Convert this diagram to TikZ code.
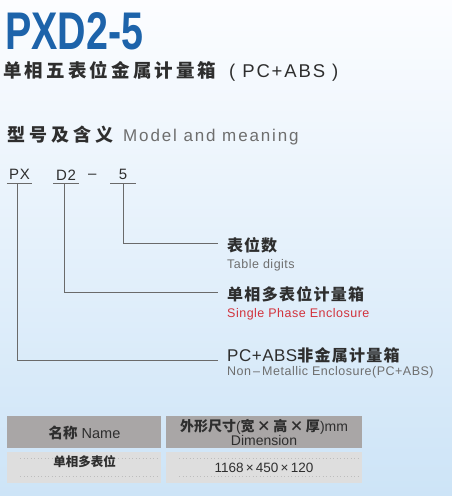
\documentclass[tikz,border=0pt]{standalone}
\usepackage{fontspec}
\setmainfont{Liberation Sans}
\newfontfamily\cjk{Noto Sans CJK SC}
\definecolor{titleblue}{HTML}{1D63AA}
\definecolor{bgtop}{HTML}{FCFDFF}
\definecolor{bgbot}{HTML}{CDE4F7}
\definecolor{txtdark}{HTML}{2E2E2E}
\definecolor{txtgrey}{HTML}{6E6E6E}
\definecolor{txtred}{HTML}{D2323C}
\definecolor{linegrey}{HTML}{6A6A6A}
\definecolor{headgrey}{HTML}{A9A6A6}
\definecolor{cellgrey}{HTML}{DEDEDE}
\tikzset{
  txt/.style={anchor=base west, inner sep=0pt},
  codepart/.style={anchor=south, inner sep=0pt, minimum width=25pt, minimum height=16pt, text=txtdark, font=\fontsize{15}{15}\selectfont\addfontfeature{LetterSpace=4}},
  conn/.style={draw=linegrey, line width=0.9pt},
  headcell/.style={fill=headgrey, draw=none, inner sep=0pt, minimum height=32pt},
  datacell/.style={fill=cellgrey, draw=none, inner sep=0pt, minimum height=31pt},
  dots/.style={draw=cellgrey!85!black, line width=0.5pt, dash pattern=on 0.5pt off 3pt}
}
\begin{document}
\begin{tikzpicture}[x=1pt,y=-1pt]
\useasboundingbox (0,0) rectangle (452,496);
\shade[top color=bgtop, bottom color=bgbot] (0,0) rectangle (452,496);

% title
\node[anchor=south west, inner sep=0pt, text=titleblue] (title) at (5,50)
  {\resizebox{138pt}{37pt}{\bfseries PXD2-5}};
\node[txt, text=txtdark] (sub) at (3,77.5)
  {\cjk\bfseries\fontsize{18.5}{18}\selectfont\addfontfeature{LetterSpace=17}单相五表位金属计量箱};
\node[txt, text=txtdark] (subp) at (229,77)
  {\fontsize{18.5}{18}\selectfont\addfontfeature{LetterSpace=10}( PC+ABS )};

% section heading
\node[txt, text=txtdark] (sec) at (7,141)
  {\cjk\bfseries\fontsize{18}{18}\selectfont\addfontfeature{LetterSpace=22}型号及含义};
\node[txt, text=txtgrey] (secen) at (123,141)
  {\fontsize{17}{17}\selectfont\addfontfeature{LetterSpace=11}Model and meaning};

% code parts
\node[codepart] (px) at (19.5,183) {PX};
\node[codepart] (d2) at (66,183) {D2};
\node[txt, text=txtdark, font=\fontsize{15}{15}\selectfont] (dash) at (88,178) {–};
\node[codepart] (five) at (123,183) {5};
\draw[conn] (px.south west) -- (px.south east);
\draw[conn] (d2.south west) -- (d2.south east);
\draw[conn] (five.south west) -- (five.south east);

% labels
\coordinate (e1) at (218,243);
\coordinate (e2) at (218,292);
\coordinate (e3) at (218,360);
\node[txt, text=txtdark] (l1) at (227,251)
  {\cjk\bfseries\fontsize{16}{16}\selectfont\addfontfeature{LetterSpace=6}表位数};
\node[txt, text=txtgrey] (l1e) at (227,268)
  {\fontsize{12.5}{12}\selectfont\addfontfeature{LetterSpace=4}Table digits};
\node[txt, text=txtdark] (l2) at (227,300)
  {\cjk\bfseries\fontsize{16}{16}\selectfont\addfontfeature{LetterSpace=8}单相多表位计量箱};
\node[txt, text=txtred] (l2e) at (227,317)
  {\fontsize{12.5}{12}\selectfont\addfontfeature{LetterSpace=4}Single Phase Enclosure};
\node[txt, text=txtdark] (l3) at (227,361)
  {\fontsize{17}{18}\selectfont\addfontfeature{LetterSpace=3}PC+ABS\cjk\bfseries\fontsize{16}{16}\selectfont\addfontfeature{LetterSpace=8}非金属计量箱};
\node[txt, text=txtgrey] (l3e) at (227,375)
  {\fontsize{12.5}{12}\selectfont\addfontfeature{LetterSpace=4}Non\,–\,Metallic Enclosure(PC+ABS)};

\draw[conn] (five.south) |- (e1);
\draw[conn] ([xshift=-2pt]d2.south) |- (e2);
\draw[conn] ([xshift=-2.5pt]px.south) |- (e3);

% table
\node[headcell, minimum width=154pt, anchor=north west] (h1) at (7,416) {};
\node[headcell, minimum width=196pt, anchor=north west] (h2) at (166,416) {};
\node[datacell, minimum width=154pt, anchor=north west] (c1) at (7,452) {};
\node[datacell, minimum width=196pt, anchor=north west] (c2) at (166,452) {};
\draw[dots] ([xshift=13pt,yshift=-6pt]c1.north west) -- ([xshift=-4pt,yshift=-6pt]c1.north east);
\draw[dots] ([xshift=13pt,yshift=-24pt]c1.north west) -- ([xshift=-4pt,yshift=-24pt]c1.north east);
\draw[dots] ([xshift=13pt,yshift=-6pt]c2.north west) -- ([xshift=-4pt,yshift=-6pt]c2.north east);
\draw[dots] ([xshift=13pt,yshift=-24pt]c2.north west) -- ([xshift=-4pt,yshift=-24pt]c2.north east);

\node[inner sep=0pt, text=txtdark, font=\fontsize{14.5}{14}\selectfont] (h1t) at (84.5,433)
  {{\cjk\bfseries 名称} Name};
\node[inner sep=0pt, text=txtdark, align=center, font=\fontsize{14}{12.5}\selectfont] (h2t) at (264,432.5)
  {{\cjk\bfseries 外形尺寸}(\cjk\bfseries 宽\,×\,高\,×\,厚\normalfont)mm\\Dimension};
\node[inner sep=0pt, text=txtdark, font=\cjk\bfseries\fontsize{12.5}{12}\selectfont] (c1t) at (84.5,462) {单相多表位};
\node[inner sep=0pt, text=txtdark, font=\fontsize{13.5}{12}\selectfont] (c2t) at (264,468) {1168\,×\,450\,×\,120};
\end{tikzpicture}
\end{document}
